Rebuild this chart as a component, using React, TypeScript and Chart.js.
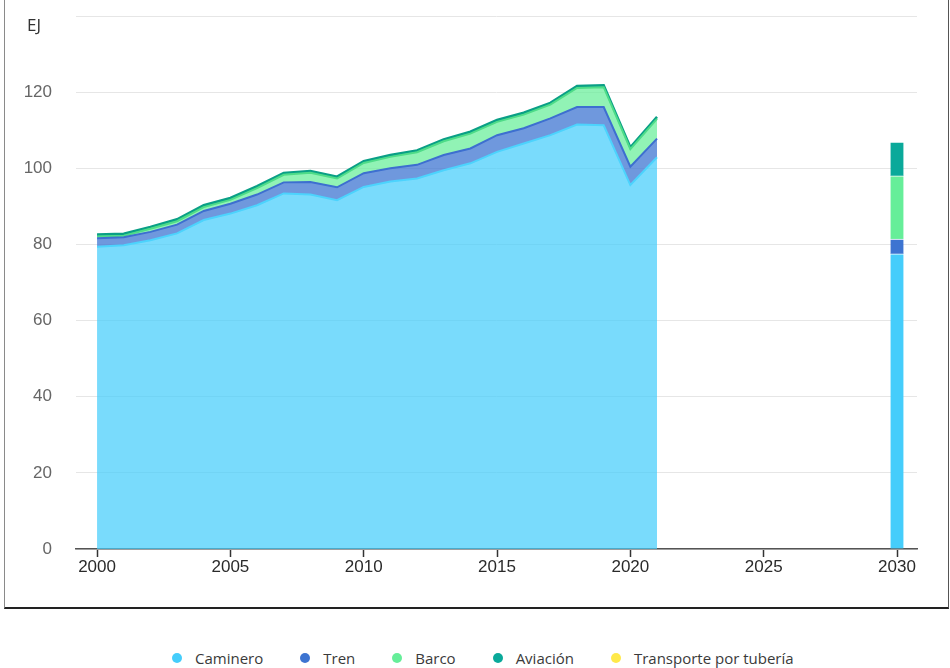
import React, { useEffect, useRef } from 'react';
import { Chart, registerables } from 'chart.js';

Chart.register(...registerables);

// ---- Data ----
const years = [2000, 2001, 2002, 2003, 2004, 2005, 2006, 2007, 2008, 2009, 2010, 2011, 2012, 2013, 2014, 2015, 2016, 2017, 2018, 2019, 2020, 2021];
const caminero = [79.4, 79.8, 81.1, 82.9, 86.4, 88.1, 90.3, 93.4, 93.1, 91.6, 95.1, 96.5, 97.3, 99.5, 101.3, 104.3, 106.5, 108.7, 111.5, 111.3, 95.6, 102.9];
const tren = [2.2, 2.1, 2.2, 2.3, 2.4, 2.6, 2.8, 2.9, 3.3, 3.4, 3.6, 3.5, 3.6, 4.0, 3.9, 4.4, 4.0, 4.4, 4.6, 4.8, 4.8, 4.9];
const barco = [0.5, 0.4, 0.8, 0.9, 1.0, 1.0, 1.7, 2.0, 2.4, 2.3, 2.7, 3.0, 3.3, 3.6, 3.9, 3.5, 3.6, 3.6, 5.0, 5.2, 4.6, 5.2];
const aviacion = [0.5, 0.5, 0.5, 0.5, 0.5, 0.5, 0.5, 0.5, 0.5, 0.5, 0.5, 0.5, 0.5, 0.5, 0.5, 0.5, 0.5, 0.5, 0.5, 0.5, 0.5, 0.5];
const tuberia: number[] = [];

const projectionYear = 2030;
const projection = [77.5, 3.9, 16.6, 8.9]; // Caminero, Tren, Barco, Aviación

const seriesNames = ['Caminero', 'Tren', 'Barco', 'Aviación', 'Transporte por tubería'];
const seriesColors = ['#45cdfb', '#3d74d1', '#66ee99', '#0aa99a', '#ffe94a'];
const areaFills = ['rgba(69,205,251,0.72)', 'rgba(61,116,209,0.74)', 'rgba(102,238,153,0.72)', 'rgba(10,169,154,0.8)', 'rgba(255,233,74,0.7)'];
const areaLines = ['#4cd3fd', '#3d6fd0', '#4edc88', '#0a9f86', '#ffe94a'];

const xTicks = [2000, 2005, 2010, 2015, 2020, 2025, 2030];
const yTicks = [0, 20, 40, 60, 80, 100, 120];
const yUnit = 'EJ';

const tickFont = "'Liberation Sans', Arial, sans-serif";

export default function App() {
  const canvasRef = useRef<HTMLCanvasElement | null>(null);

  useEffect(() => {
    const canvas = canvasRef.current;
    if (!canvas) return;
    const histSeries = [caminero, tren, barco, aviacion, tuberia];
    const lineSets = histSeries.map((arr, i) => ({
      type: 'line' as const,
      label: seriesNames[i],
      data: arr.map((v, k) => ({ x: years[k], y: v })),
      borderColor: areaLines[i],
      backgroundColor: areaFills[i],
      borderWidth: i === 3 ? 2.5 : 2,
      pointRadius: 0,
      pointHoverRadius: 0,
      tension: 0,
      fill: i === 0 ? 'origin' : '-1',
      stack: 'hist',
    }));
    const barSets = projection.map((v, i) => ({
      type: 'bar' as const,
      label: seriesNames[i] + ' 2030',
      data: [{ x: projectionYear, y: v }],
      backgroundColor: seriesColors[i],
      borderColor: '#ffffff',
      borderWidth: { top: 1, left: 0, right: 0, bottom: 0 },
      borderSkipped: false,
      barThickness: 13,
      stack: 'proj',
    }));

    const chart = new Chart(canvas, {
      type: 'line',
      data: { datasets: [...lineSets, ...barSets] as any },
      options: {
        responsive: false,
        animation: false,
        events: [],
        layout: { padding: { left: 0, right: 33, top: 16, bottom: 0 } },
        plugins: {
          legend: { display: false },
          tooltip: { enabled: false },
          title: { display: false },
        },
        scales: {
          x: {
            type: 'linear',
            min: 1999.21,
            max: 2030.75,
            offset: false,
            afterFit: (s: any) => { s.height = 58; },
            afterBuildTicks: (s: any) => { s.ticks = xTicks.map((v) => ({ value: v })); },
            ticks: {
              includeBounds: false,
              stepSize: 5,
              padding: 0,
              color: '#2a2a2a',
              font: { family: tickFont, size: 17 },
              callback: (v: any) => String(v),
              maxRotation: 0,
              autoSkip: false,
            },
            grid: {
              offset: false,
              drawOnChartArea: false,
              drawTicks: true,
              tickLength: 8,
              tickWidth: 1.5,
              tickColor: '#333333',
              color: '#333333',
            },
            border: { display: true, color: '#555555', width: 1.5 },
          },
          y: {
            type: 'linear',
            stacked: true,
            min: 0,
            max: 140,
            afterFit: (s: any) => {
              s.width = 76;
              s.paddingTop = 0;
              s.paddingBottom = 0;
            },
            ticks: {
              stepSize: 20,
              padding: 24,
              color: '#666666',
              font: { family: tickFont, size: 17 },
              callback: (v: any) => (yTicks.includes(Number(v)) ? String(v) : ''),
            },
            grid: { color: '#e6e6e6', lineWidth: 1, drawTicks: false },
            border: { display: false },
          },
        },
      } as any,
    });
    return () => chart.destroy();
  }, []);

  return (
    <div style={{ position: 'fixed', left: 0, top: 0, width: 950, height: 668, background: '#fff', overflow: 'hidden' }}>
      <div
        style={{
          position: 'absolute',
          left: 4,
          top: -2,
          width: 945,
          height: 611,
          boxSizing: 'border-box',
          borderLeft: '1px solid #8a8a8a',
          borderRight: '1px solid #555',
          borderTop: '1px solid #888',
          borderBottom: '2px solid #222',
        }}
      />
      <canvas ref={canvasRef} width={950} height={607} style={{ position: 'absolute', left: 0, top: 0, width: 950, height: 607 }} />
      <div
        style={{
          position: 'absolute',
          left: 27,
          top: 15,
          fontFamily: '"Open Sans", sans-serif',
          fontSize: 17,
          lineHeight: '20px',
          color: '#333',
        }}
      >
        {yUnit}
      </div>
      <div
        style={{
          position: 'absolute',
          left: 172,
          top: 648,
          display: 'flex',
          alignItems: 'center',
          fontFamily: '"Open Sans", sans-serif',
          fontSize: 15,
          lineHeight: '20px',
          color: '#3a3a3a',
          whiteSpace: 'nowrap',
        }}
      >
        {seriesNames.map((name, i) => (
          <div key={name} style={{ display: 'flex', alignItems: 'center', marginRight: i < seriesNames.length - 1 ? 37 : 0 }}>
            <span
              style={{
                display: 'inline-block',
                width: 10,
                height: 10,
                borderRadius: '50%',
                background: seriesColors[i],
                marginRight: 13,
                marginTop: -1,
              }}
            />
            <span>{name}</span>
          </div>
        ))}
      </div>
    </div>
  );
}
